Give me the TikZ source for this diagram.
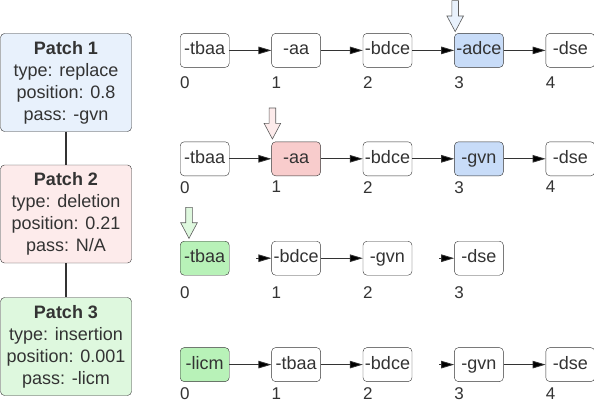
\documentclass[tikz,border=0pt]{standalone}
\usepackage{fontspec}
\setmainfont{Liberation Sans}
\usepackage{tikz}
\usetikzlibrary{matrix,shapes.arrows}
\usetikzlibrary{arrows.meta}

\definecolor{txt}{HTML}{333333}
\definecolor{blueLight}{HTML}{E8F1FC}
\definecolor{redLight}{HTML}{FDEBEB}
\definecolor{greenLight}{HTML}{DEF8DE}
\definecolor{blueSel}{HTML}{C8DCF8}
\definecolor{redSel}{HTML}{F8CCCC}
\definecolor{greenSel}{HTML}{B8F2B8}

\tikzset{
	patch/.style={draw=txt, rounded corners=4pt, minimum width=131pt, minimum height=98pt, inner sep=0pt, align=center},
	stage/.style={draw=txt, rounded corners=4pt, minimum width=49pt, minimum height=34pt, inner sep=0pt, text height=13pt, text depth=4pt, anchor=center},
	idx/.style={anchor=north west, inner sep=0pt, font=\fontsize{17}{20}\selectfont},
	marker/.style={single arrow, draw=txt!80, line width=0.6pt, shape border rotate=270, minimum height=31pt, single arrow head extend=5pt, single arrow tip angle=56, inner sep=3pt, anchor=tip},
	flow/.style={-{Triangle[length=13pt,width=7.5pt]}, line width=0.8pt, draw=txt}
}

\begin{document}
\begin{tikzpicture}[x=1pt, y=-1pt, font=\fontsize{18}{22}\selectfont, text=txt]
	\useasboundingbox (0,0) rectangle (594,404);

	\node[patch, fill=blueLight] (p1) at (66,82.5) {\textbf{Patch 1}\\type: replace\\position: 0.8\\pass: -gvn};
	\node[patch, fill=redLight] (p2) at (66,214) {\textbf{Patch 2}\\type: deletion\\position: 0.21\\pass: N/A};
	\node[patch, fill=greenLight] (p3) at (66,346.5) {\textbf{Patch 3}\\type: insertion\\position: 0.001\\pass: -licm};
	\draw[line width=1.2pt, txt] (p1) -- (p2) (p2) -- (p3);

	\matrix (m) [matrix of nodes, nodes={stage}, row sep=72pt, column sep=42pt, inner sep=0pt] at (387.5,207.5)
	{
		-tbaa & -aa & -bdce & |[fill=blueSel]| -adce & -dse \\[2pt]
		-tbaa & |[fill=redSel]| -aa & -bdce & |[fill=blueSel]| -gvn & -dse \\[-7pt]
		|[fill=greenSel]| -tbaa & -bdce & -gvn & -dse \\
		|[fill=greenSel]| -licm & -tbaa & -bdce & -gvn & -dse \\
	};

	\path[flow]
	(m-1-1) edge (m-1-2)
	(m-1-2) edge (m-1-3)
	(m-1-3) edge (m-1-4)
	(m-1-4) edge (m-1-5)
	(m-2-1) edge (m-2-2)
	(m-2-2) edge (m-2-3)
	(m-2-3) edge (m-2-4)
	(m-2-4) edge (m-2-5)
	(m-3-1) edge[shorten <=27pt] (m-3-2)
	(m-3-2) edge (m-3-3)
	(m-3-3) edge[shorten <=27pt] (m-3-4)
	(m-4-1) edge (m-4-2)
	(m-4-2) edge (m-4-3)
	(m-4-3) edge[shorten <=27pt] (m-4-4)
	(m-4-4) edge (m-4-5);

	% position indices under each pass
	\foreach \r/\n/\d in {1/5/9pt,2/5/5pt,3/4/11pt,4/5/6pt}
		\foreach \c [count=\i from 0] in {1,...,\n}
			\node[idx] (n-\r-\c) at ([yshift=-\d]m-\r-\c.south west) {\i};

	\node[marker, fill=blueLight] (mk1) at ([xshift=1pt,yshift=1pt]m-1-4.north west) {};
	\node[marker, fill=redLight] (mk2) at ([xshift=1pt,yshift=2pt]m-2-2.north west) {};
	\node[marker, fill=greenLight] (mk3) at ([xshift=9pt,yshift=2pt]m-3-1.north west) {};
\end{tikzpicture}
\end{document}
